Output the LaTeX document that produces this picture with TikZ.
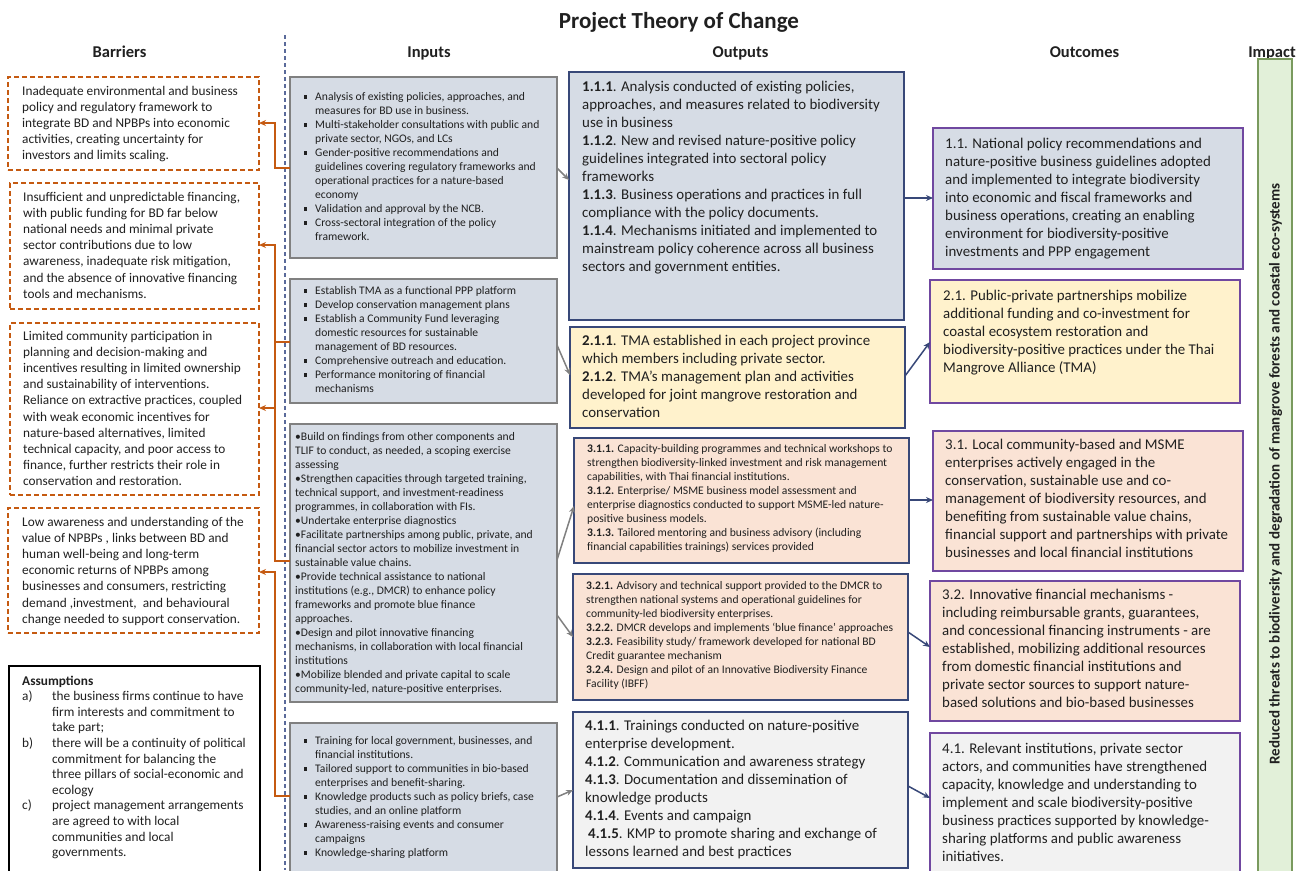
\documentclass[tikz,border=0pt]{standalone}
\usepackage{fontspec}
\setmainfont{Carlito}
\usetikzlibrary{arrows.meta}
\definecolor{orng}{HTML}{C55A11}
\definecolor{infill}{HTML}{D6DCE5}
\definecolor{indraw}{HTML}{808080}
\definecolor{navy}{HTML}{384878}
\definecolor{yel}{HTML}{FFF2CC}
\definecolor{peach}{HTML}{FAE3D5}
\definecolor{lgray}{HTML}{F2F2F2}
\definecolor{purp}{HTML}{7048A0}
\definecolor{gfill}{HTML}{E2F0D9}
\definecolor{gdraw}{HTML}{7A9A5E}
\definecolor{sepc}{HTML}{5A6A9A}
\definecolor{txt}{HTML}{202020}
\newcommand\sqb{\makebox[11pt][l]{\rule[2.3pt]{3.2pt}{3.2pt}}}
\newcommand\ind{\hspace*{11pt}}
\newcommand\albl[1]{\makebox[30pt][l]{#1}}
\tikzset{
  bx/.style={rectangle, anchor=north west, inner sep=0pt, outer sep=0pt},
  barbox/.style={bx, draw=orng, line width=1.6pt, dash pattern=on 5pt off 3pt},
  asbox/.style={bx, draw=black, line width=2pt},
  inbox/.style={bx, draw=indraw, fill=infill, line width=2.4pt},
  outbox/.style={bx, draw=navy, line width=2pt},
  ocbox/.style={bx, draw=purp, line width=2pt},
  impbox/.style={bx, draw=gdraw, fill=gfill, line width=2pt},
  tx/.style={anchor=north west, inner sep=0pt, align=left, text=txt},
  fbar/.style={tx, font=\fontsize{13.3}{16.2}\selectfont},
  fas/.style={tx, font=\fontsize{13.3}{15.6}\selectfont},
  fsm/.style={tx, font=\fontsize{11.6}{14}\selectfont},
  fbig/.style={tx, font=\fontsize{14.9}{18}\selectfont},
  hdr/.style={font=\fontsize{16.5}{20}\selectfont\bfseries, inner sep=0pt, anchor=base, text=txt},
  oarr/.style={draw=orng, line width=1.6pt, -{Stealth[length=7pt,width=6pt]}},
  oline/.style={draw=orng, line width=1.6pt},
  garr/.style={draw=indraw, line width=1.5pt, -{Stealth[length=7pt,width=6pt]}},
  narr/.style={draw=navy, line width=1.5pt, -{Stealth[length=7pt,width=6pt]}},
}
\begin{document}
\begin{tikzpicture}[x=1pt,y=-1pt]
\useasboundingbox (0,0) rectangle (1306,870);
\fill[white] (0,0) rectangle (1306,870);
\clip (0,0) rectangle (1306,870);

% title and headers
\node[font=\fontsize{23}{28}\selectfont\bfseries, inner sep=0pt, anchor=base, text=txt] (title) at (679,28) {Project Theory of Change};
\node[hdr] (hbar) at (119.5,57) {Barriers};
\node[hdr] (hin) at (429,57) {Inputs};
\node[hdr] (hout) at (740.5,57) {Outputs};
\node[hdr] (hoc) at (1084.5,57) {Outcomes};
\node[hdr] (himp) at (1272,57) {Impact};

% separator
\draw[sepc, line width=1.2pt, dash pattern=on 4pt off 3pt] (285,35) -- (285,870);

% barriers
\node[barbox, minimum width=251pt, minimum height=93pt] (b1) at (8,77) {};
\node[barbox, minimum width=249pt, minimum height=126pt] (b2) at (10,183) {};
\node[barbox, minimum width=249pt, minimum height=172pt] (b3) at (10,323) {};
\node[barbox, minimum width=251pt, minimum height=125pt] (b4) at (8,508) {};
\node[asbox, minimum width=251pt, minimum height=234pt] (as) at (9,666) {};

\node[fbar] (tb1) at (22,83.5) {\strut Inadequate environmental and business\\policy and regulatory framework to\\integrate BD and NPBPs into economic\\activities, creating uncertainty for\\investors and limits scaling.};
\node[fbar] (tb2) at (23,189.5) {\strut Insufficient and unpredictable financing,\\with public funding for BD far below\\national needs and minimal private\\sector contributions due to low\\awareness, inadequate risk mitigation,\\and the absence of innovative financing\\tools and mechanisms.};
\node[fbar] (tb3) at (23,328.5) {\strut Limited community participation in\\planning and decision-making and\\incentives resulting in limited ownership\\and sustainability of interventions.\\Reliance on extractive practices, coupled\\with weak economic incentives for\\nature-based alternatives, limited\\technical capacity, and poor access to\\finance, further restricts their role in\\conservation and restoration.};
\node[fbar] (tb4) at (22,514.5) {\strut Low awareness and understanding of the\\value of NPBPs , links between BD and\\human well-being and long-term\\economic returns of NPBPs among\\businesses and consumers, restricting\\demand ,investment,\ \ and behavioural\\change needed to support conservation.};
\node[fas] (tas) at (22,674) {\strut\textbf{Assumptions}\\\albl{a)}the business firms continue to have\\\albl{}firm interests and commitment to\\\albl{}take part;\\\albl{b)}there will be a continuity of political\\\albl{}commitment for balancing the\\\albl{}three pillars of social-economic and\\\albl{}ecology\\\albl{c)}project management arrangements\\\albl{}are agreed to with local\\\albl{}communities and local\\\albl{}governments.};

% inputs
\node[inbox, minimum width=267pt, minimum height=181pt] (i1) at (290,77) {};
\node[inbox, minimum width=267pt, minimum height=124pt] (i2) at (290,279) {};
\node[inbox, minimum width=267pt, minimum height=278pt] (i3) at (290,424) {};
\node[inbox, minimum width=267pt, minimum height=177pt] (i4) at (290,723) {};

\node[fsm] (ti1) at (304,90.8) {\strut\sqb Analysis of existing policies, approaches, and\\\ind measures for BD use in business.\\\sqb Multi-stakeholder consultations with public and\\\ind private sector, NGOs, and LCs\\\sqb Gender-positive recommendations and\\\ind guidelines covering regulatory frameworks and\\\ind operational practices for a nature-based\\\ind economy\\\sqb Validation and approval by the NCB.\\\sqb Cross-sectoral integration of the policy\\\ind framework.};
\node[fsm] (ti2) at (304,284.8) {\strut\sqb Establish TMA as a functional PPP platform\\\sqb Develop conservation management plans\\\sqb Establish a Community Fund leveraging\\\ind domestic resources for sustainable\\\ind management of BD resources.\\\sqb Comprehensive outreach and education.\\\sqb Performance monitoring of financial\\\ind mechanisms};
\node[fsm] (ti3) at (295,430.8) {\strut\textbullet Build on findings from other components and\\TLIF to conduct, as needed, a scoping exercise\\assessing\\\textbullet Strengthen capacities through targeted training,\\technical support, and investment-readiness\\programmes, in collaboration with FIs.\\\textbullet Undertake enterprise diagnostics\\\textbullet Facilitate partnerships among public, private, and\\financial sector actors to mobilize investment in\\sustainable value chains.\\\textbullet Provide technical assistance to national\\institutions (e.g., DMCR) to enhance policy\\frameworks and promote blue finance\\approaches.\\\textbullet Design and pilot innovative financing\\mechanisms, in collaboration with local financial\\institutions\\\textbullet Mobilize blended and private capital to scale\\community-led, nature-positive enterprises.};
\node[fsm] (ti4) at (304,734.8) {\strut\sqb Training for local government, businesses, and\\\ind financial institutions.\\\sqb Tailored support to communities in bio-based\\\ind enterprises and benefit-sharing.\\\sqb Knowledge products such as policy briefs, case\\\ind studies, and an online platform\\\sqb Awareness-raising events and consumer\\\ind campaigns\\\sqb Knowledge-sharing platform};

% outputs
\node[outbox, fill=infill, minimum width=335pt, minimum height=248pt] (o1) at (569,72) {};
\node[outbox, fill=yel, minimum width=335pt, minimum height=101pt] (o2) at (570,327) {};
\node[outbox, fill=peach, minimum width=335pt, minimum height=125pt] (o3) at (574,438) {};
\node[outbox, fill=peach, minimum width=335pt, minimum height=126pt] (o4) at (573,574) {};
\node[outbox, fill=lgray, minimum width=335pt, minimum height=156pt] (o5) at (573,712) {};

\node[fbig] (to1) at (582,78.6) {\strut\textbf{1.1.1}. Analysis conducted of existing policies,\\approaches, and measures related to biodiversity\\use in business\\\textbf{1.1.2}. New and revised nature-positive policy\\guidelines integrated into sectoral policy\\frameworks\\\textbf{1.1.3}. Business operations and practices in full\\compliance with the policy documents.\\\textbf{1.1.4}. Mechanisms initiated and implemented to\\mainstream policy coherence across all business\\sectors and government entities.};
\node[fbig] (to2) at (582,332.6) {\strut\textbf{2.1.1}. TMA established in each project province\\which members including private sector.\\\textbf{2.1.2}. TMA’s management plan and activities\\developed for joint mangrove restoration and\\conservation};
\node[fsm] (to3) at (587,442.8) {\strut\textbf{3.1.1.} Capacity-building programmes and technical workshops to\\strengthen biodiversity-linked investment and risk management\\capabilities, with Thai financial institutions.\\\textbf{3.1.2.} Enterprise/ MSME business model assessment and\\enterprise diagnostics conducted to support MSME-led nature-\\positive business models.\\\textbf{3.1.3.} Tailored mentoring and business advisory (including\\financial capabilities trainings) services provided};
\node[fsm] (to4) at (586,579.8) {\strut\textbf{3.2.1.} Advisory and technical support provided to the DMCR to\\strengthen national systems and operational guidelines for\\community-led biodiversity enterprises.\\\textbf{3.2.2.} DMCR develops and implements ‘blue finance’ approaches\\\textbf{3.2.3.} Feasibility study/ framework developed for national BD\\Credit guarantee mechanism\\\textbf{3.2.4.} Design and pilot of an Innovative Biodiversity Finance\\Facility (IBFF)};
\node[fbig] (to5) at (585,717.6) {\strut\textbf{4.1.1}. Trainings conducted on nature-positive\\enterprise development.\\\textbf{4.1.2}. Communication and awareness strategy\\\textbf{4.1.3}. Documentation and dissemination of\\knowledge products\\\textbf{4.1.4}. Events and campaign\\\hspace*{3pt}\textbf{4.1.5}. KMP to promote sharing and exchange of\\lessons learned and best practices};

% outcomes
\node[ocbox, fill=infill, minimum width=310pt, minimum height=141pt] (c1) at (933,128) {};
\node[ocbox, fill=yel, minimum width=310pt, minimum height=123pt] (c2) at (930,280) {};
\node[ocbox, fill=peach, minimum width=310pt, minimum height=140pt] (c3) at (933,431) {};
\node[ocbox, fill=peach, minimum width=310pt, minimum height=140pt] (c4) at (930,581) {};
\node[ocbox, fill=lgray, minimum width=310pt, minimum height=167pt] (c5) at (930,733) {};

\node[fbig] (tc1) at (945,135.6) {\strut 1.1. National policy recommendations and\\nature-positive business guidelines adopted\\and implemented to integrate biodiversity\\into economic and fiscal frameworks and\\business operations, creating an enabling\\environment for biodiversity-positive\\investments and PPP engagement};
\node[fbig] (tc2) at (943,287.6) {\strut 2.1. Public-private partnerships mobilize\\additional funding and co-investment for\\coastal ecosystem restoration and\\biodiversity-positive practices under the Thai\\Mangrove Alliance (TMA)};
\node[fbig] (tc3) at (945,436.6) {\strut 3.1. Local community-based and MSME\\enterprises actively engaged in the\\conservation, sustainable use and co-\\management of biodiversity resources, and\\benefiting from sustainable value chains,\\financial support and partnerships with private\\businesses and local financial institutions};
\node[fbig] (tc4) at (942,586.6) {\strut 3.2. Innovative financial mechanisms -\\including reimbursable grants, guarantees,\\and concessional financing instruments - are\\established, mobilizing additional resources\\from domestic financial institutions and\\private sector sources to support nature-\\based solutions and bio-based businesses};
\node[fbig] (tc5) at (942,740.6) {\strut 4.1. Relevant institutions, private sector\\actors, and communities have strengthened\\capacity, knowledge and understanding to\\implement and scale biodiversity-positive\\business practices supported by knowledge-\\sharing platforms and public awareness\\initiatives.};

% impact
\node[impbox, minimum width=34pt, minimum height=841pt] (imp) at (1258,59) {};
\node[rotate=90, inner sep=0pt, text=txt, font=\fontsize{15}{18}\selectfont\bfseries] (timp) at (1275.5,474) {Reduced threats to biodiversity and degradation of mangrove forests and coastal eco-systems};

% orange connectors inputs -> barriers
\draw[oarr] ([yshift=-91pt]i1.north west) -- ++(-15,0) |- ([yshift=-46pt]b1.north east);
\draw[oarr] ([yshift=-63pt]i2.north west) -- ++(-15,0) |- ([yshift=-62pt]b2.north east);
\draw[oline] ([yshift=-137pt]i3.north west) -- ++(-15,0) |- ([yshift=-63pt]i2.north west);
\draw[oarr] ([yshift=-137pt,xshift=-15pt]i3.north west) |- ([yshift=-85pt]b3.north east);
\draw[oarr] ([yshift=-73pt]i4.north west) -- ++(-15,0) |- ([yshift=-64pt]b4.north east);

% gray connectors inputs -> outputs
\draw[garr] ([yshift=-91pt]i1.north east) -- ([yshift=-108pt]o1.north west);
\draw[garr] ([yshift=-66pt]i2.north east) -- ([yshift=-48pt]o2.north west);
\draw[garr] ([yshift=-136pt]i3.north east) -- ([yshift=-68pt]o3.north west);
\draw[garr] ([yshift=-191pt]i3.north east) -- ([yshift=-63pt]o4.north west);
\draw[garr] ([yshift=-74pt]i4.north east) -- ([yshift=-78pt]o5.north west);

% navy connectors outputs -> outcomes
\draw[narr] ([yshift=-126pt]o1.north east) -- ([yshift=-70pt]c1.north west);
\draw[narr] ([yshift=-49pt]o2.north east) -- ([yshift=-62pt]c2.north west);
\draw[narr] ([yshift=-62pt]o3.north east) -- ([yshift=-69pt]c3.north west);
\draw[narr] ([yshift=-58pt]o4.north east) -- ([yshift=-66pt]c4.north west);
\draw[narr] ([yshift=-74pt]o5.north east) -- ([yshift=-65pt]c5.north west);
\end{tikzpicture}
\end{document}
